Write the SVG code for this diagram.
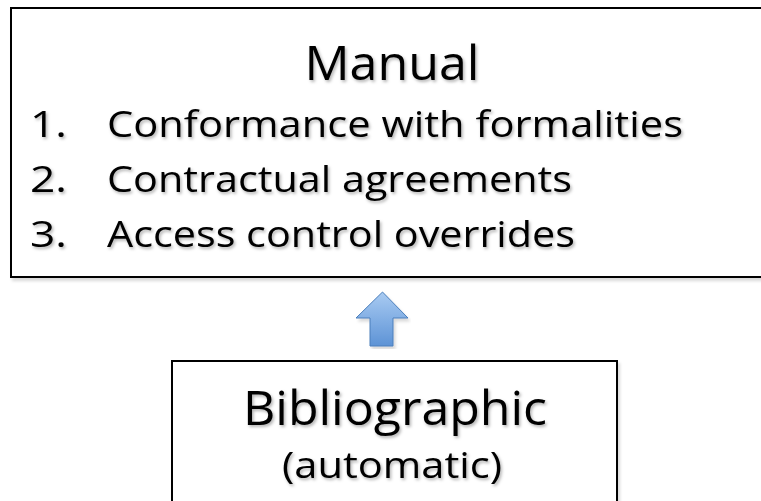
<svg xmlns="http://www.w3.org/2000/svg" width="761" height="501" viewBox="0 0 761 501">
<style>
.box{fill:#ffffff;stroke:#000000;stroke-width:2}
.t{font-family:"Open Sans","Noto Sans","Liberation Sans",sans-serif;fill:#000000;filter:url(#ts)}
.big{font-size:48px}
.item{font-size:37px}
</style>
<defs>
<filter id="ts" x="-10%" y="-30%" width="120%" height="160%">
<feDropShadow dx="1.5" dy="2" stdDeviation="1.5" flood-color="#000" flood-opacity="0.3"/>
</filter>
<filter id="bs" x="-5%" y="-5%" width="110%" height="110%">
<feDropShadow dx="2" dy="3" stdDeviation="1.5" flood-color="#000" flood-opacity="0.15"/>
</filter>
<linearGradient id="ag" x1="0" y1="0" x2="0" y2="1">
<stop offset="0" stop-color="#a9cbf2"/>
<stop offset="1" stop-color="#5d93d6"/>
</linearGradient>
</defs>
<g id="manual">
<rect class="box" x="11" y="8" width="760" height="269" filter="url(#bs)"/>
<text class="t big" x="392" y="80" text-anchor="middle" textLength="175" lengthAdjust="spacingAndGlyphs">Manual</text>
<text class="t item" x="30" y="137" textLength="37" lengthAdjust="spacingAndGlyphs">1.</text>
<text class="t item" x="107" y="137" textLength="576" lengthAdjust="spacingAndGlyphs">Conformance with formalities</text>
<text class="t item" x="30" y="192" textLength="37" lengthAdjust="spacingAndGlyphs">2.</text>
<text class="t item" x="107" y="192" textLength="465" lengthAdjust="spacingAndGlyphs">Contractual agreements</text>
<text class="t item" x="30" y="247" textLength="37" lengthAdjust="spacingAndGlyphs">3.</text>
<text class="t item" x="107" y="247" textLength="468" lengthAdjust="spacingAndGlyphs">Access control overrides</text>
</g>
<g id="connectors">
<path d="M382.5,292 L408,318 L393,318 L393,346 L370,346 L370,318 L356,318 Z" fill="url(#ag)" stroke="#4a7ebb" stroke-width="1" filter="url(#bs)"/>
</g>
<g id="bibliographic">
<rect class="box" x="172" y="361" width="445" height="150" filter="url(#bs)"/>
<text class="t big" x="395" y="425" text-anchor="middle" textLength="304" lengthAdjust="spacingAndGlyphs">Bibliographic</text>
<text class="t item" x="392" y="478" text-anchor="middle" textLength="220" lengthAdjust="spacingAndGlyphs">(automatic)</text>
</g>
</svg>
